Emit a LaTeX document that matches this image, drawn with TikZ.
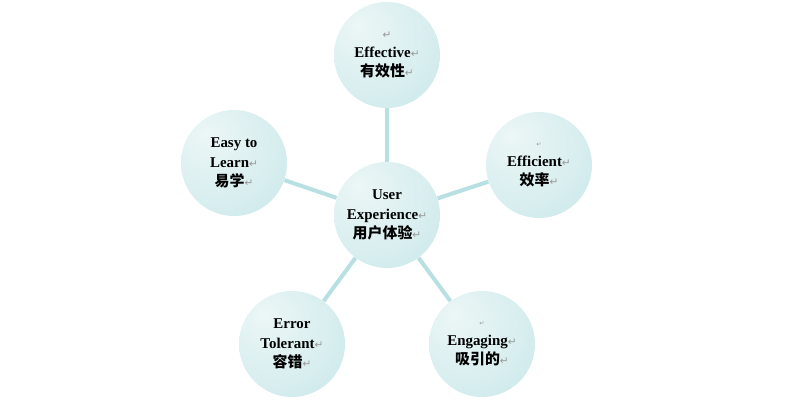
\documentclass[tikz,border=0pt]{standalone}
\usepackage{fontspec}
\setmainfont{Liberation Serif}
\newfontfamily\cjk{Noto Sans CJK SC}
\newfontfamily\marksfont{DejaVu Sans}
\definecolor{spoke}{RGB}{184,223,226}
\definecolor{bubhi}{RGB}{236,246,246}
\definecolor{bubmid}{RGB}{216,238,239}
\definecolor{bublo}{RGB}{168,214,220}
\pgfdeclareradialshading{bubshade}{\pgfpoint{-14bp}{14bp}}{color(0bp)=(bubhi); color(28bp)=(bubmid); color(52bp)=(bubmid!55!bublo); color(68bp)=(bublo); color(80bp)=(bublo)}
\newcommand{\ret}{{\marksfont\mdseries\color{gray!80}\fontsize{6}{6}\selectfont ↵}}
\newcommand{\tinyret}{{\marksfont\mdseries\color{gray!80}\fontsize{3.5}{3.5}\selectfont ↵}}

\begin{document}
\begin{tikzpicture}[
  bubblenode/.style={circle, minimum size=2.12cm, inner sep=0pt, shading=bubshade, align=center, font=\bfseries\fontsize{8.5}{11}\selectfont},
  spokeline/.style={spoke, line width=2.3pt}]
\useasboundingbox (0,0) rectangle (16.06,8.26);
\node[bubblenode] (ux) at (7.74,3.96) {User\\Experience\ret\\{\cjk 用户体验}\ret};
\node[bubblenode] (eff) at (7.74,7.16) {\ret\\Effective\ret\\{\cjk 有效性}\ret};
\node[bubblenode] (effi) at (10.78,4.96) {\tinyret\\Efficient\ret\\{\cjk 效率}\ret};
\node[bubblenode] (easy) at (4.68,5.00) {Easy to\\Learn\ret\\{\cjk 易学}\ret};
\node[bubblenode] (err) at (5.84,1.38) {Error\\Tolerant\ret\\{\cjk 容错}\ret};
\node[bubblenode] (eng) at (9.64,1.38) {\tinyret\\Engaging\ret\\{\cjk 吸引的}\ret};
\draw[spokeline] (ux) -- (eff);
\draw[spokeline] (ux) -- (effi);
\draw[spokeline] (ux) -- (easy);
\draw[spokeline] (ux) -- (err);
\draw[spokeline] (ux) -- (eng);
\end{tikzpicture}
\end{document}
